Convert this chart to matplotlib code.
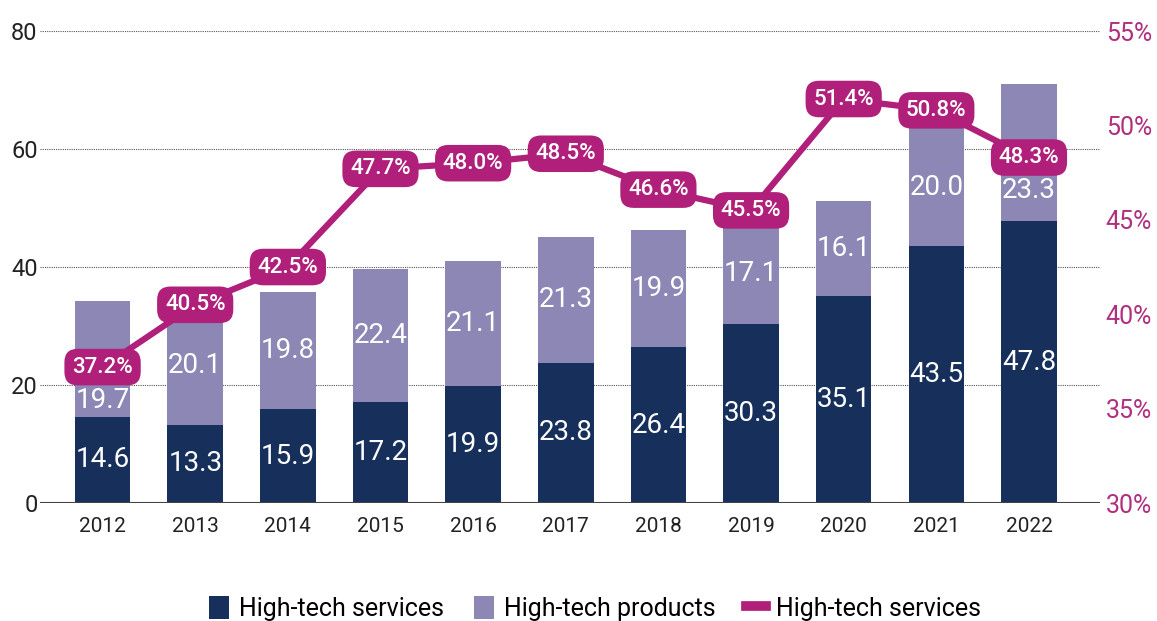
import matplotlib
matplotlib.use("Agg")
import matplotlib.pyplot as plt
from matplotlib.patches import Patch
from matplotlib.lines import Line2D
import numpy as np

plt.rcParams['font.family'] = ['Roboto', 'DejaVu Sans']

# data
years = ["2012", "2013", "2014", "2015", "2016", "2017", "2018", "2019", "2020", "2021", "2022"]
services = [14.6, 13.3, 15.9, 17.2, 19.9, 23.8, 26.4, 30.3, 35.1, 43.5, 47.8]
products = [19.7, 20.1, 19.8, 22.4, 21.1, 21.3, 19.9, 17.1, 16.1, 20.0, 23.3]
share = [37.2, 40.5, 42.5, 47.7, 48.0, 48.5, 46.6, 45.5, 51.4, 50.8, 48.3]

navy = "#17305b"
lilac = "#8c87b5"
magenta = "#b01f7a"

fig = plt.figure(figsize=(11.57, 6.21), dpi=100)
ax = fig.add_axes([0.035, 0.19, 0.916, 0.76])
x = np.arange(len(years))

ax.bar(x, services, width=0.6, color=navy, zorder=2)
ax.bar(x, products, width=0.6, bottom=services, color=lilac, zorder=2)

ax.set_ylim(0, 80)
ax.set_xlim(-0.67, 10.77)
ax.set_yticks([0, 20, 40, 60, 80])
ax.grid(axis="y", linestyle=(0, (1, 1)), color="#555555", linewidth=0.8, zorder=0)
ax.axhline(0, color="#444444", linewidth=1.5, zorder=3)
for s in ax.spines.values():
    s.set_visible(False)
ax.tick_params(axis="y", length=0, pad=2, labelsize=17, labelcolor="#222222")
ax.tick_params(axis="x", length=0, pad=10, labelsize=15, labelcolor="#222222")
ax.set_xticks(x)
ax.set_xticklabels(years)

ax2 = ax.twinx()
ax2.set_ylim(30, 55)
ax2.set_yticks([30, 35, 40, 45, 50, 55])
ax2.set_yticklabels([f"{v}%" for v in [30, 35, 40, 45, 50, 55]])
ax2.tick_params(axis="y", length=0, pad=4, labelsize=18, labelcolor="#b0307f")
for s in ax2.spines.values():
    s.set_visible(False)

ax2.plot(x, share, color=magenta, linewidth=4.5, zorder=4)

# bar labels; products label is moved below the share label when they collide
for i in range(len(years)):
    ax.text(x[i], services[i] / 2, f"{services[i]:.1f}", color="white", fontsize=20,
            ha="center", va="center", zorder=3)
    mid = services[i] + products[i] / 2
    line_val = (share[i] - 30) / 25 * 80
    if abs(line_val - mid) < 5:
        mid = line_val - 5.6
    ax.text(x[i], mid, f"{products[i]:.1f}", color="white", fontsize=20,
            ha="center", va="center", zorder=3)

for i in range(len(years)):
    ax2.text(x[i], share[i], f"{share[i]:.1f}%", color="white", fontsize=16, fontweight="medium",
             ha="center", va="center", zorder=5,
             bbox=dict(boxstyle="round,pad=0.35,rounding_size=0.6", fc=magenta, ec="none"))

handles = [
    Patch(facecolor=navy, label="High-tech services"),
    Patch(facecolor=lilac, label="High-tech products"),
    Line2D([0], [0], color=magenta, linewidth=7, label="High-tech services"),
]
fig.legend(handles=handles, loc="center", bbox_to_anchor=(0.514, 0.02), ncol=3, frameon=False,
           fontsize=18, handlelength=0.8, handleheight=1.0, handletextpad=0.4, columnspacing=1.2)

fig.savefig("out.png", dpi=100)
